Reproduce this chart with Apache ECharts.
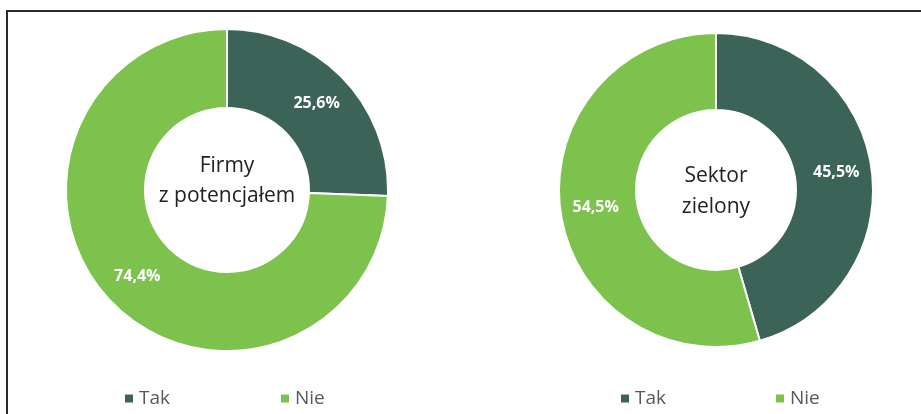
<!DOCTYPE html>
<html><head><meta charset="utf-8">
<script src="https://cdn.jsdelivr.net/npm/echarts@6/dist/echarts.min.js"></script>
<style>html,body{margin:0;padding:0;background:#fff}#c{width:921px;height:414px}</style>
</head><body><div id="c"></div>
<script>
const categories = ['Tak', 'Nie'];
const firmyValues = [25.6, 74.4];
const sektorValues = [45.5, 54.5];
const centerLabels = ['Firmy\nz potencjałem', 'Sektor\nzielony'];
const colors = ['#3c6358', '#7cc24c'];
const FONT = '"Open Sans", "Liberation Sans", sans-serif';

const chart = echarts.init(document.getElementById('c'), null, {renderer: 'canvas'});
function pie(values, center, radius) {
  return {
    type: 'pie', center: center, radius: radius, startAngle: 90, clockwise: true,
    avoidLabelOverlap: false, silent: true,
    itemStyle: {borderColor: '#fff', borderWidth: 2},
    label: {show: true, position: 'inside', color: '#fff', fontWeight: 'bold', fontSize: 16, fontFamily: FONT,
      formatter: p => String(p.value).replace('.', ',') + '%'},
    labelLine: {show: false},
    data: categories.map((c, i) => ({name: c, value: values[i], itemStyle: {color: colors[i]}}))
  };
}
function leg(name, left) {
  return {data: [name], left: left, top: 389, padding: 0, itemWidth: 10, itemHeight: 10, itemGap: 0, icon: 'rect',
    selectedMode: false, textStyle: {color: '#595959', fontSize: 19, fontFamily: FONT}};
}
chart.setOption({
  animation: false,
  legend: [leg('Tak', 123), leg('Nie', 279), leg('Tak', 619), leg('Nie', 774)],
  series: [pie(firmyValues, [227, 190], [82, 161]), pie(sektorValues, [716, 190], [80, 157])],
  graphic: [
    {type: 'rect', shape: {x: 7, y: 11, width: 1000, height: 600}, style: {fill: 'none', stroke: '#2b2b2b', lineWidth: 2}, silent: true},
    {type: 'text', x: 227, y: 181, style: {text: centerLabels[0], align: 'center', verticalAlign: 'middle', fontSize: 21, lineHeight: 30, fontFamily: FONT, fill: '#222'}},
    {type: 'text', x: 716, y: 192, style: {text: centerLabels[1], align: 'center', verticalAlign: 'middle', fontSize: 21, lineHeight: 31, fontFamily: FONT, fill: '#222'}}
  ]
});
</script></body></html>
